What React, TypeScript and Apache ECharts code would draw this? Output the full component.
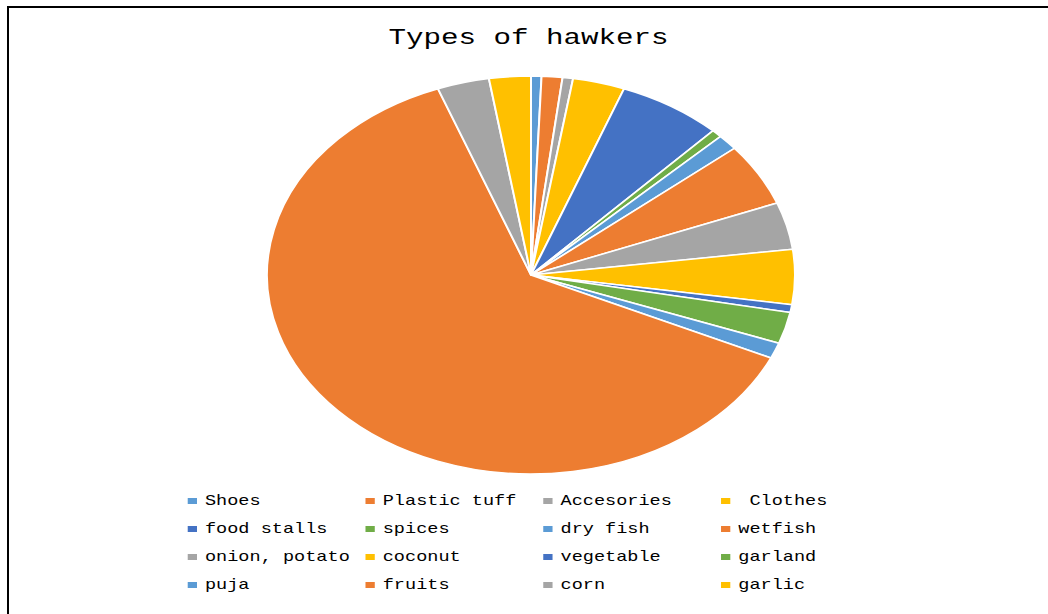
import React, { useEffect, useRef } from "react";
import * as echarts from "echarts";

const TITLE = "Types of hawkers";
const categories = [
  "Shoes",
  "Plastic tuff",
  "Accesories",
  " Clothes",
  "food stalls",
  "spices",
  "dry fish",
  "wetfish",
  "onion, potato",
  "coconut",
  "vegetable",
  "garland",
  "puja",
  "fruits",
  "corn",
  "garlic",
];
const counts = [1, 2, 1, 5, 10, 1, 2, 8, 6, 7, 1, 4, 2, 98, 5, 4];
const palette = ["#5B9BD5", "#ED7D31", "#A5A5A5", "#FFC000", "#4472C4", "#70AD47"];

// horizontal stretch of the whole chart (the original is an elliptical pie)
const SX = 264 / 199;
const PAGE_W = 1048;
const PAGE_H = 614;
const CW = PAGE_W / SX;

export default function App() {
  const ref = useRef<HTMLDivElement>(null);
  useEffect(() => {
    if (!ref.current) return;
    const chart = echarts.init(ref.current, null, { renderer: "svg" });
    const font = "'Liberation Mono', 'DejaVu Sans Mono', monospace";
    chart.setOption({
      animation: false,
      color: palette,
      title: {
        text: TITLE,
        left: 398.4 - (TITLE.length * 0.6 * 22) / 2,
        top: 27,
        padding: 0,
        textStyle: { fontFamily: font, fontSize: 22, fontWeight: "normal", color: "#000" },
      },
      legend: {
        orient: "horizontal",
        left: 139.5,
        top: 491,
        width: 540,
        padding: 0,
        itemGap: 8,
        itemWidth: 9,
        itemHeight: 8,
        icon: "rect",
        selectedMode: false,
        data: categories,
        textStyle: {
          fontFamily: font,
          fontSize: 14,
          color: "#000",
          width: 111,
          lineHeight: 20,
          overflow: "truncate",
        },
      },
      series: [
        {
          type: "pie",
          center: [531 / SX, 275],
          radius: [0, 199],
          startAngle: 90,
          clockwise: true,
          silent: true,
          label: { show: false },
          labelLine: { show: false },
          itemStyle: { borderColor: "#fff", borderWidth: 1.5 },
          emphasis: { disabled: true },
          data: categories.map((name, i) => ({ name, value: counts[i] })),
        },
      ],
    });
    return () => chart.dispose();
  }, []);

  return (
    <div style={{ position: "absolute", left: 0, top: 0, width: PAGE_W, height: PAGE_H, overflow: "hidden", background: "#fff" }}>
      <div
        style={{
          position: "absolute",
          left: 7,
          top: 6,
          width: PAGE_W - 7,
          height: PAGE_H - 6,
          borderLeft: "2px solid #000",
          borderTop: "2px solid #000",
          boxSizing: "border-box",
        }}
      />
      <div
        ref={ref}
        style={{
          position: "absolute",
          left: 0,
          top: 0,
          width: CW,
          height: PAGE_H,
          transform: `scaleX(${SX})`,
          transformOrigin: "0 0",
        }}
      />
    </div>
  );
}
